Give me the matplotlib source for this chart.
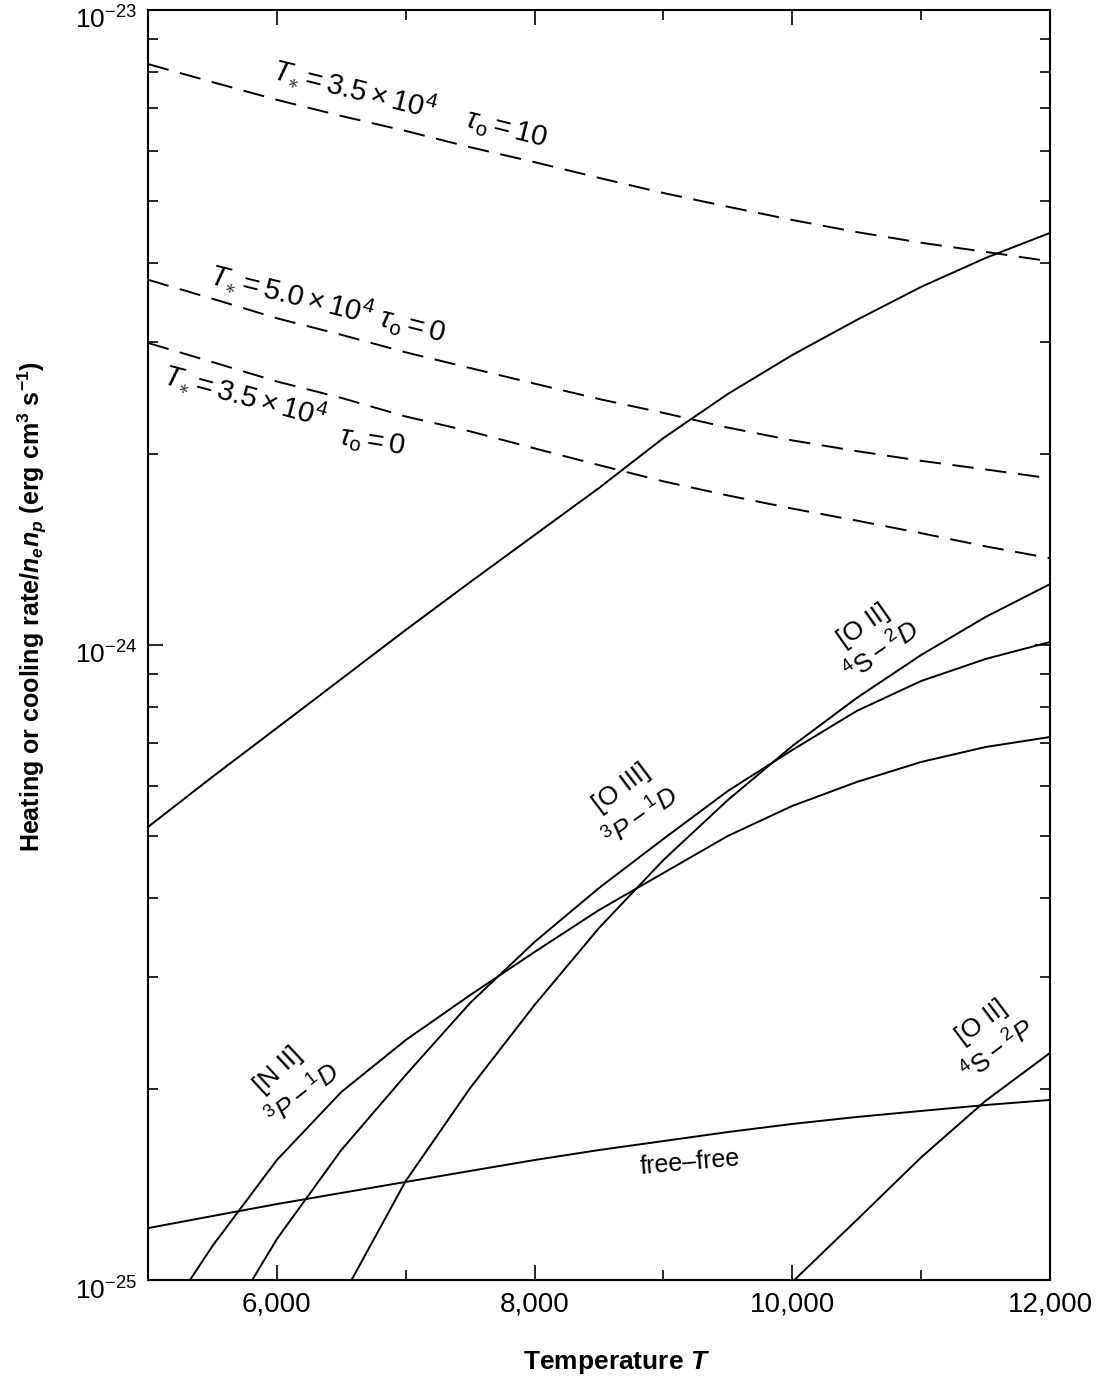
# Heating and cooling rates vs. temperature (photoionized nebula)
import numpy as np
import matplotlib
matplotlib.use('Agg')
import matplotlib.pyplot as plt
from matplotlib import rcParams
from matplotlib.transforms import ScaledTranslation
from matplotlib.ticker import FixedLocator, NullFormatter, FuncFormatter, LogFormatterMathtext

rcParams['font.family'] = ['Liberation Sans', 'DejaVu Sans']
rcParams['mathtext.fontset'] = 'custom'
rcParams['mathtext.rm'] = 'Liberation Sans'
rcParams['mathtext.it'] = 'Liberation Sans:italic'
rcParams['mathtext.bf'] = 'Liberation Sans:bold'
rcParams['mathtext.bfit'] = 'Liberation Sans:italic:bold'
rcParams['mathtext.sf'] = 'Liberation Sans'

# temperatures (K) and rates / n_e n_p (erg cm^3 s^-1)
T_grid = [5000, 5500, 6000, 6500, 7000, 7500, 8000, 8500, 9000, 9500,
          10000, 10500, 11000, 11500, 12000]

# heating (dashed)
heat_35_tau10 = [8.22e-24, 7.70e-24, 7.22e-24, 6.81e-24, 6.45e-24, 6.08e-24, 5.76e-24, 5.44e-24,
                 5.15e-24, 4.90e-24, 4.67e-24, 4.47e-24, 4.30e-24, 4.16e-24, 4.02e-24]
heat_50_tau0 = [3.76e-24, 3.51e-24, 3.27e-24, 3.08e-24, 2.89e-24, 2.73e-24, 2.58e-24, 2.44e-24,
                2.32e-24, 2.20e-24, 2.10e-24, 2.02e-24, 1.95e-24, 1.89e-24, 1.83e-24]
heat_35_tau0 = [2.99e-24, 2.79e-24, 2.60e-24, 2.45e-24, 2.29e-24, 2.17e-24, 2.04e-24, 1.92e-24,
                1.81e-24, 1.72e-24, 1.64e-24, 1.57e-24, 1.50e-24, 1.43e-24, 1.37e-24]

# cooling (solid)
cool_top = [5.17e-25, 6.20e-25, 7.40e-25, 8.84e-25, 1.056e-24, 1.256e-24, 1.490e-24, 1.767e-24,
            2.118e-24, 2.485e-24, 2.862e-24, 3.250e-24, 3.664e-24, 4.069e-24, 4.456e-24]
free_free = [1.207e-25, 1.261e-25, 1.317e-25, 1.371e-25, 1.427e-25, 1.485e-25, 1.545e-25, 1.602e-25,
             1.655e-25, 1.710e-25, 1.761e-25, 1.806e-25, 1.846e-25, 1.886e-25, 1.921e-25]

T_nii = [5300, 5500, 6000, 6500, 7000, 7500, 8000, 8500, 9000, 9500,
         10000, 10500, 11000, 11500, 12000]
nii_1d = [9.82e-26, 1.131e-25, 1.545e-25, 1.977e-25, 2.387e-25, 2.810e-25, 3.285e-25, 3.825e-25,
          4.375e-25, 5.004e-25, 5.579e-25, 6.085e-25, 6.543e-25, 6.908e-25, 7.163e-25]

T_oiii = [5800, 6000, 6500, 7000, 7500, 8000, 8500, 9000, 9500,
          10000, 10500, 11000, 11500, 12000]
oiii_1d = [9.93e-26, 1.160e-25, 1.602e-25, 2.103e-25, 2.731e-25, 3.407e-25, 4.143e-25, 4.950e-25,
           5.890e-25, 6.833e-25, 7.873e-25, 8.776e-25, 9.505e-25, 1.011e-24]

T_oii_2d = [6550, 7000, 7500, 8000, 8500, 9000, 9500, 10000, 10500, 11000, 11500, 12000]
oii_2d = [9.75e-26, 1.432e-25, 2.006e-25, 2.711e-25, 3.584e-25, 4.586e-25, 5.700e-25, 6.933e-25,
          8.252e-25, 9.644e-25, 1.107e-24, 1.247e-24]

T_oii_2p = [10000, 10500, 11000, 11500, 12000]
oii_2p = [9.93e-26, 1.243e-25, 1.560e-25, 1.915e-25, 2.278e-25]

# axis ticks
X_MAJOR = [6000, 8000, 10000, 12000]
X_MINOR = [7000, 9000, 11000]
Y_MAJOR = [1e-25, 1e-24, 1e-23]


def main():
    fig = plt.figure(figsize=(11.12, 13.88), dpi=100)
    ax = fig.add_axes([148 / 1112, 1 - 1280 / 1388, 902 / 1112, 1270 / 1388])

    # heating curves (dashed)
    for vals in (heat_35_tau10, heat_50_tau0, heat_35_tau0):
        ax.plot(T_grid, vals, color='black', lw=1.4, dashes=(11, 6))

    # cooling curves (solid)
    ax.plot(T_grid, cool_top, color='black', lw=1.4)
    ax.plot(T_grid, free_free, color='black', lw=1.4)
    ax.plot(T_nii, nii_1d, color='black', lw=1.4)
    ax.plot(T_oiii, oiii_1d, color='black', lw=1.4)
    ax.plot(T_oii_2d, oii_2d, color='black', lw=1.4)
    ax.plot(T_oii_2p, oii_2p, color='black', lw=1.4)

    ax.set_yscale('log')
    ax.set_xlim(5000, 12000)
    ax.set_ylim(1e-25, 1e-23)

    ax.xaxis.set_major_locator(FixedLocator(X_MAJOR))
    ax.xaxis.set_minor_locator(FixedLocator(X_MINOR))
    ax.xaxis.set_major_formatter(FuncFormatter(lambda v, p: f'{int(v):,}'))
    y_minor = [m * d for d in Y_MAJOR[:-1] for m in range(2, 10)]
    ax.yaxis.set_major_locator(FixedLocator(Y_MAJOR))
    ax.yaxis.set_minor_locator(FixedLocator(y_minor))
    ax.yaxis.set_major_formatter(LogFormatterMathtext())
    ax.yaxis.set_minor_formatter(NullFormatter())

    ax.tick_params(which='both', direction='in', top=True, right=True, width=1.2)
    ax.tick_params(which='major', length=11, pad=8)
    ax.tick_params(which='minor', length=7)
    ax.tick_params(axis='x', which='major', labelsize=20)
    ax.tick_params(axis='y', which='major', labelsize=19)
    for sp in ax.spines.values():
        sp.set_linewidth(1.5)

    # labels on the heating curves
    fs = 21
    ax.text(7033, 7.14e-24,
            r'$T_{\ast} = \mathit{3.5} \times \mathit{10}^{\mathit{4}}\quad\ \tau_{\mathrm{o}} = \mathit{10}$',
            fontsize=fs, rotation=-14, ha='center', va='center')
    ax.text(6397, 3.46e-24,
            r'$T_{\ast} = \mathit{5.0} \times \mathit{10}^{\mathit{4}}\ \tau_{\mathrm{o}} = \mathit{0}$',
            fontsize=fs, rotation=-14, ha='center', va='center')
    ax.text(5753, 2.48e-24, r'$T_{\ast} = \mathit{3.5} \times \mathit{10}^{\mathit{4}}$',
            fontsize=fs, rotation=-15, ha='center', va='center')
    ax.text(6738, 2.09e-24, r'$\tau_{\mathrm{o}} = \mathit{0}$',
            fontsize=fs, rotation=-9, ha='center', va='center')

    # labels on the cooling curves
    fl = 19
    ax.text(10549, 1.074e-24, '[O II]', fontsize=fl, rotation=35, ha='center', va='center')
    ax.text(10696, 9.75e-25, r'${}^{4}\mathrm{S}-{}^{2}D$', fontsize=fl, rotation=35,
            ha='center', va='center')
    ax.text(8671, 5.96e-25, '[O III]', fontsize=fl, rotation=37, ha='center', va='center')
    ax.text(8826, 5.35e-25, r'${}^{3}P-{}^{1}D$', fontsize=fl, rotation=35,
            ha='center', va='center')
    ax.text(6009, 2.14e-25, '[N II]', fontsize=fl, rotation=43, ha='center', va='center')
    ax.text(6203, 1.95e-25, r'${}^{3}P-{}^{1}D$', fontsize=fl, rotation=38,
            ha='center', va='center')
    ax.text(11472, 2.55e-25, '[O II]', fontsize=fl, rotation=37, ha='center', va='center')
    ax.text(11604, 2.29e-25, r'${}^{4}\mathrm{S}-{}^{2}P$', fontsize=fl, rotation=37,
            ha='center', va='center')
    ax.text(9206, 1.53e-25, 'free\u2013free', fontsize=18, rotation=5, ha='center', va='center')

    # axis titles
    fig.text(32 / 1112, 1 - 607 / 1388,
             r'Heating or cooling rate/$\mathbfit{n}_{\mathbfit{e}}\mathbfit{n}_{\mathbfit{p}}$'
             r' (erg cm$^{\mathbf{3}}$ s$^{\mathbf{-1}}$)',
             rotation=90, ha='center', va='center', fontsize=18, fontweight='bold')
    fig.text(617 / 1112, 1 - 1362 / 1388, r'Temperature $\mathbfit{T}$',
             ha='center', va='center', fontsize=19, fontweight='bold')

    # the 10^n labels sit a little below their ticks, as in the original
    fig.canvas.draw()
    shift = ScaledTranslation(0, -0.08, fig.dpi_scale_trans)
    for tick in ax.yaxis.get_major_ticks():
        tick.label1.set_transform(tick.label1.get_transform() + shift)

    fig.savefig('out.png', dpi=100, facecolor='white')


main()
